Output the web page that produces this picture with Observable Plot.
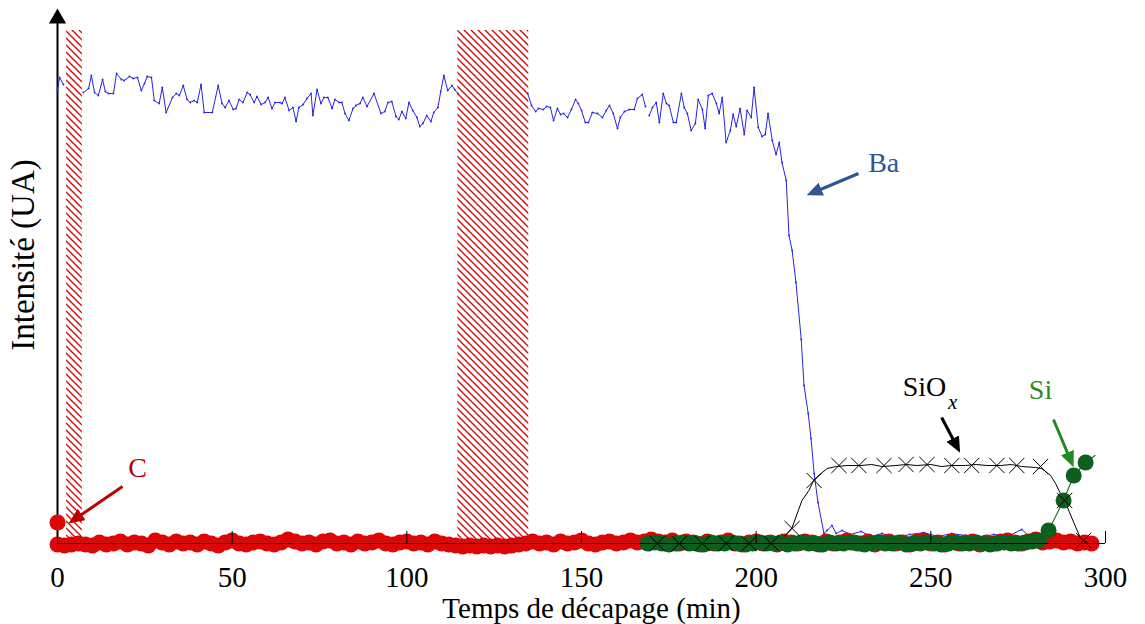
<!DOCTYPE html>
<html><head><meta charset="utf-8">
<script src="https://cdn.jsdelivr.net/npm/d3@7"></script>
<script src="https://cdn.jsdelivr.net/npm/@observablehq/plot@0.6"></script>
<style>body{margin:0;background:#fff} svg text{font-family:'Liberation Serif','Times New Roman',serif !important}</style>
</head><body><div id="chart"></div>
<script>
const xTicks = [0, 50, 100, 150, 200, 250, 300];
const xTitle = "Temps de décapage (min)";
const yTitle = "Intensité (UA)";

// Ba (blue line) – NaN marks the gaps
const baTime = [0,0.6,1.7,4,7.4,8.9,9.7,10.6,11.7,12.9,13.7,14.6,16.0,16.9,18.3,19.1,20.6,21.7,22.9,24.0,24.9,25.7,26.9,27.7,29.1,30.0,31.1,32.9,34.0,34.9,36.0,37.1,38.0,39.1,40.0,41.1,42.0,44.3,46.0,47.1,48.0,49.1,50.3,51.1,52.0,53.1,54.3,55.1,56.3,57.1,58.3,59.4,60.3,61.4,62.3,63.7,64.3,65.1,66.3,67.4,68.3,69.1,70.3,71.4,72.6,73.1,74.3,75.4,76.3,77.4,78.6,79.4,80.6,81.4,82.3,83.4,84.6,85.4,86.6,87.4,88.6,90.6,92.6,93.7,94.6,95.7,96.9,97.7,98.6,99.7,100.6,101.7,102.9,103.7,104.6,105.7,106.9,107.7,108.9,109.7,110.6,111.7,112.9,113.7,114.6,120,
134.6,135.7,136.9,137.7,139.1,140.0,141.1,142.0,143.1,144.0,144.9,146.0,147.1,148.3,149.1,150.0,151.1,152.0,153.1,154.6,156.0,157.1,158.0,159.1,160.3,161.1,162.3,163.7,165.1,166.0,167.4,168.3,168.8,
169.4,170.3,171.4,172.3,173.4,174.3,175.1,176.3,177.1,178.6,179.4,180.3,181.4,182.6,183.4,184.6,185.4,186.3,187.4,188.6,189.4,190.3,191.4,192.6,193.4,194.3,195.4,196.6,197.4,198.6,199.4,200.6,201.7,202.6,203.4,204.6,205.7,206.6,207.4,208.6,209.4,210.3,211.4,212.9,213.7,214.9,215.7,216.6,217.7,219.4,220.3,221.7,222.9,224.6,227,230,233,236,240,244,248,252,256,260,264,268,272,276,278,282,286,290];
const baValue = [453,466,459,NaN,451,455,468,451,448,464,452,450,450,470,464,463,467,465,466,453,460,467,466,443,440,456,431,446,450,448,458,444,441,443,441,459,431,431,458,440,436,443,434,435,444,441,451,449,441,447,439,441,446,435,441,441,440,446,433,436,422,436,439,445,450,428,454,440,446,446,435,444,441,441,430,423,435,438,440,446,437,450,430,432,441,442,427,424,432,425,441,433,426,417,420,428,422,431,436,452,468,453,458,454,450,NaN,
450,438,432,435,434,437,436,423,435,429,430,426,434,444,440,433,421,421,431,430,426,433,438,430,415,426,432,434,434,445,449,437,NaN,
428,436,441,421,450,440,438,421,421,450,436,430,413,420,444,434,415,448,450,440,430,446,401,413,429,417,435,409,433,426,456,416,407,409,430,403,389,401,381,363,308,293,261,204,158,130,105,70,41,10,13,18,10,13,9,12,7,10,6,9,11,7,10,8,6,9,7,14,8,6,4,5];

// C (red dots)
const cTime = [0,0,2,4,6,8,10,12,14,16,18,20,22,24,26,28,30,32,34,36,38,40,42,44,46,48,50,52,54,56,58,60,62,64,66,68,70,72,74,76,78,80,82,84,86,88,90,92,94,96,98,100,102,104,106,108,110,112,114,116,118,120,122,124,126,128,130,132,134,136,138,140,142,144,146,148,150,152,154,156,158,160,162,164,166,168,170,172,174,176,178,180,182,184,186,188,190,192,194,196,198,200,202,204,206,208,210,212,214,216,218,220,222,224,226,228,230,232,234,236,238,240,242,244,246,248,250,252,254,256,258,260,262,264,266,268,270,272,274,276,278,280,282,284,286,288,290,292,294,296];
const cValue = [21,-1,-2,-1,0,-1,-2,1,-1,0,2,-1,1,0,-2,3,1,-1,2,0,1,-1,2,0,-2,1,3,0,-1,1,2,0,-1,1,4,2,0,1,-1,2,3,0,1,-1,2,0,1,3,0,-1,1,2,0,1,-1,2,0,-1,-2,-3,-2,-3,-2,-3,-2,-3,-2,-1,0,2,0,1,-1,2,0,1,3,0,-1,1,2,0,1,3,1,2,4,2,1,3,0,2,1,-1,2,0,1,3,0,-1,1,2,0,1,-1,2,1,0,2,1,-1,2,0,1,3,1,0,2,-1,1,2,0,1,-1,2,3,0,1,-1,2,0,1,2,-1,1,0,2,3,1,0,2,4,1,2,3,1,2,0,1,0];

// Si (green dots + line); last point has no marker
const siTime = [169,171,173,175,177,179,181,183,185,187,189,191,193,195,197,199,201,203,205,207,209,211,213,215,217,219,221,223,225,227,229,231,233,235,237,239,241,243,245,247,249,251,253,255,257,259,261,263,265,267,269,271,273,275,277,279,281,283.7,288,290.9,294.3,297];
const siValue = [0,1,0,-1,0,1,0,0,-1,1,0,0,1,0,-1,0,1,0,0,1,-1,0,1,0,0,-1,1,0,0,1,0,-1,0,1,0,0,1,-1,0,0,1,0,-1,0,1,0,0,1,0,-1,0,1,0,0,1,2,3,13,43,68,81,88];

// SiOx (black line + × markers)
const sioxTime = [169,175,180,185,190,195,200,205,207.7,210.3,213.1,215.1,216.6,218.6,220.3,222.9,226,230,233,236,240,243,246,250,253,256,260,263,266,270,273,276,280,281.7,284.3,285.7,287.1,288.3,290.9,292.9,295.1];
const sioxValue = [0,0,0,0,0,0,0,1,5,16,43,53,64,70,75,77,78,78,79,77,78,79,78,79,77,78,78,79,78,78,79,77,76,75,68,60,50,43,21,5,0];
const sioxMarkTime = [171.7,178,184.6,191.4,198,204.3,210.3,216.6,223.7,229.4,236.6,242.9,248.9,256,261.7,268.9,274.6,281.4,288.3,293.7];
const sioxMarkValue = [0,0,0,0,0,0,15,63,78,78,78,79,79,78,78,78,78,77,43,3];

// hatched regions
const hatchStart = [2.6, 114.6];
const hatchEnd = [7.1, 134.9];
const hatchTop = [513, 513];

// annotations
const labelText = ["Ba", "C", "Si"];
const labelTime = [236.5, 22.9, 281.4];
const labelValue = [380, 75, 153];
const labelColor = ["#2f5597", "#c00000", "#2a8a2a"];
const sioxLabel = "SiO", sioxSub = "x";
const sioxLabelTime = 254.4, sioxLabelValue = 156;
const sioxSubTime = 254.9, sioxSubValue = 141;
const arrowTime1 = [229.3, 18.6, 253.1, 285.1];
const arrowValue1 = [370, 57, 126, 124];
const arrowTime2 = [218.4, 6.7, 256.4, 289.2];
const arrowValue2 = [354, 28.5, 104, 90];
const arrowColor = ["#2f5597", "#c00000", "#000000", "#228b22"];

const idx = (a) => a.map((_, i) => i);
const serif = "'Liberation Serif', 'Times New Roman', serif";

const plot = Plot.plot({
  width: 1145, height: 624,
  marginLeft: 57, marginRight: 40, marginTop: 8, marginBottom: 81,
  x: {domain: [0, 300]},
  y: {domain: [0, 535], axis: null},
  style: {fontFamily: serif, background: "#fff", color: "#000"},
  color: {type: "identity"},
  marks: [
    Plot.rect(idx(hatchStart), {x1: i => hatchStart[i], x2: i => hatchEnd[i], y1: 0, y2: i => hatchTop[i], fill: "url(#hatch)"}),
    Plot.ruleX([0], {y1: -2, y2: 520, stroke: "#000", strokeWidth: 2}),
    Plot.dot([0], {x: 0, y: 525, symbol: "triangle", r: 6.4, fill: "#000", stroke: "none"}),
    Plot.line(idx(baTime), {x: i => baTime[i], y: i => baValue[i], stroke: "#2424e6", strokeWidth: 1}),
    Plot.dot(idx(baTime), {x: i => baTime[i], y: i => baValue[i], r: 0.9, fill: "#2424e6", stroke: "none"}),
    Plot.dot(idx(cTime), {x: i => cTime[i], y: i => cValue[i], r: 8, fill: "#dc0707", stroke: "none"}),
    Plot.line(idx(sioxTime), {x: i => sioxTime[i], y: i => sioxValue[i], stroke: "#000", strokeWidth: 1}),
    Plot.line(idx(siTime), {x: i => siTime[i], y: i => siValue[i], stroke: "#1f7a1f", strokeWidth: 1.2}),
    Plot.dot(idx(siTime).slice(0, -1), {x: i => siTime[i], y: i => siValue[i], r: 8, fill: "#0c5f1c", stroke: "none"}),
    Plot.dot(idx(sioxMarkTime), {x: i => sioxMarkTime[i], y: i => sioxMarkValue[i], symbol: "times", r: 7, stroke: "#000", strokeWidth: 1}),
    Plot.ruleY([0], {x1: 0, x2: 300, stroke: "#000", strokeWidth: 1}),
    Plot.ruleX(xTicks, {y1: 0, y2: 12, stroke: "#000", strokeWidth: 1}),
    Plot.axisX({ticks: xTicks, tickSize: 0, tickPadding: 23, fontSize: 29, fontFamily: serif, label: null, tickFormat: d => String(d)}),
    Plot.text([xTitle], {frameAnchor: "bottom", lineAnchor: "middle", textAnchor: "middle", dy: 65, dx: 10, fontSize: 29, fontFamily: serif}),
    Plot.text([yTitle], {frameAnchor: "left", textAnchor: "middle", lineAnchor: "middle", rotate: -90, dx: -34, dy: -21, fontSize: 33, fontFamily: serif}),
    Plot.link(idx(arrowTime1), {x1: i => arrowTime1[i], y1: i => arrowValue1[i], x2: i => arrowTime2[i], y2: i => arrowValue2[i], stroke: i => arrowColor[i], strokeWidth: 3}),
    Plot.text(idx(labelText), {x: i => labelTime[i], y: i => labelValue[i], text: i => labelText[i], fill: i => labelColor[i], fontSize: 28, fontFamily: serif}),
    Plot.text([sioxLabel], {x: sioxLabelTime, y: sioxLabelValue, text: d => d, textAnchor: "end", fill: "#000", fontSize: 28, fontFamily: serif}),
    Plot.text([sioxSub], {x: sioxSubTime, y: sioxSubValue, text: d => d, fontSize: 21, fontStyle: "italic", textAnchor: "start", fill: "#000", fontFamily: serif})
  ]
});

// hatch pattern + filled arrow heads
const defs = `<defs>
<pattern id="hatch" patternUnits="userSpaceOnUse" width="7" height="7">
<rect width="7" height="7" fill="#fff"/>
<path d="M0,0L7,7M-1,6L1,8M6,-1L8,1" stroke="#d40000" stroke-width="1.3"/>
</pattern>
${arrowColor.map((c, i) => `<marker id="ah${i}" markerUnits="userSpaceOnUse" viewBox="0 0 16 14" markerWidth="16" markerHeight="14" refX="1" refY="7" orient="auto"><path d="M0,0L16,7L0,14Z" fill="${c}"/></marker>`).join("")}
</defs>`;
plot.insertAdjacentHTML("afterbegin", defs);
plot.querySelectorAll('g[aria-label="link"] path').forEach((p, i) => p.setAttribute("marker-end", `url(#ah${i})`));
document.getElementById("chart").appendChild(plot);
</script>
</body></html>
